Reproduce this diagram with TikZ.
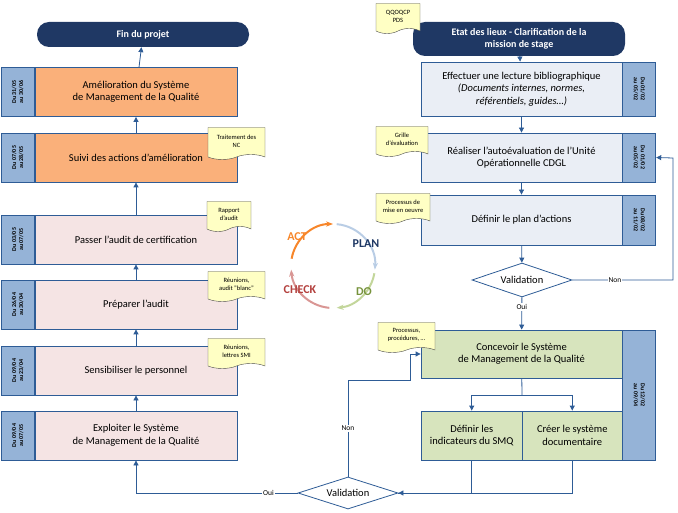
\documentclass[tikz,border=0pt]{standalone}
\usepackage{fontspec}
\setmainfont{Carlito}
\usetikzlibrary{shapes.geometric,shapes.symbols,arrows.meta,positioning}
\definecolor{navy}{HTML}{1F3864}
\definecolor{linec}{HTML}{2E5C96}
\definecolor{tabc}{HTML}{95B3D7}
\definecolor{orangec}{HTML}{FAB07A}
\definecolor{pinkc}{HTML}{F5E4E4}
\definecolor{greyc}{HTML}{EAEEF5}
\definecolor{greenc}{HTML}{D7E4BD}
\definecolor{notec}{HTML}{FFFFC4}
\definecolor{actc}{HTML}{F7862A}
\definecolor{planc}{HTML}{B9CDE5}
\definecolor{doc}{HTML}{C3D69B}
\definecolor{dotext}{HTML}{77933C}
\definecolor{checkc}{HTML}{D99694}
\definecolor{checktext}{HTML}{B3403D}

\begin{document}
\begin{tikzpicture}
  [x=1pt, y=-1pt,
  every node/.style={font=\fontsize{10.5}{12.5}\selectfont},
  flow/.style={draw=linec, thick, -{Triangle[length=5pt,width=5pt]}},
  link/.style={draw=linec, thick},
  step box/.style={draw=linec, thick, rectangle, align=center, minimum height=49, inner sep=1pt},
  date tab/.style={draw=linec, thick, rectangle, fill=tabc, minimum width=33, minimum height=49, inner sep=0pt},
  terminal/.style={fill=navy, rounded corners=12pt, text=white, align=center, minimum width=212, font=\fontsize{10}{12.5}\bfseries\selectfont},
  doc note/.style={tape, tape bend top=none, draw=black!70, fill=notec, align=center, inner sep=1pt, font=\fontsize{6.5}{8}\selectfont},
  decision/.style={diamond, draw=linec, thick, fill=white, aspect=3, minimum width=100, minimum height=34, inner sep=0pt},
  small label/.style={fill=white, inner sep=1pt, font=\fontsize{7.5}{8.5}\selectfont},
  cycle text/.style={font=\fontsize{12}{14}\bfseries\selectfont}
  ]
  \useasboundingbox (0,0) rectangle (678,513);

  % left column
  \node[terminal, minimum height=25] (end) at (143,34.5) {Fin du projet};
  \node[step box, fill=orangec, minimum width=202] (improve) at (136,92) {Amélioration du Système\\de Management de la Qualité};
  \node[step box, fill=orangec, minimum width=202] (follow) at (136,157.5) {Suivi des actions d’amélioration};
  \node[step box, fill=pinkc, minimum width=202] (audit) at (136,239.5) {Passer l’audit de certification};
  \node[step box, fill=pinkc, minimum width=202] (prepare) at (136,304.5) {Préparer l’audit};
  \node[step box, fill=pinkc, minimum width=202] (train) at (136,370.5) {Sensibiliser le personnel};
  \node[step box, fill=pinkc, minimum width=202] (run) at (136,435.5) {Exploiter le Système\\de Management de la Qualité};
  \foreach \n/\d in {improve/{Du 31/05\\au 30/06}, follow/{Du 07/05\\au 28/05}, audit/{Du 03/05\\au 07/05},
                     prepare/{Du 26/04\\au 30/04}, train/{Du 09/04\\au 23/04}, run/{Du 09/04\\au 07/05}}
    \node[date tab, anchor=east] (\n-tab) at (\n.west) {\rotatebox{90}{\parbox{34pt}{\centering\fontsize{6}{7}\bfseries\selectfont\d}}};

  \draw[flow] (run) -- (train);
  \draw[flow] (train) -- (prepare);
  \draw[flow] (prepare) -- (audit);
  \draw[flow] (audit) -- (follow);
  \draw[flow] (follow) -- (improve);
  \draw[flow] (improve) -- (end);

  \node[doc note, minimum width=57, minimum height=32] (note-nc) at (236.5,141) {Traitement des\\NC};
  \node[doc note, minimum width=44, minimum height=30] (note-report) at (229,214) {Rapport\\d’audit};
  \node[doc note, minimum width=57, minimum height=30] (note-blanc) at (236.5,284) {Réunions,\\audit "blanc"};
  \node[doc note, minimum width=57, minimum height=30] (note-smi) at (236.5,351) {Réunions,\\lettres SMI};

  % right column
  \node[terminal, minimum height=34] (start) at (519,39) {Etat des lieux - Clarification de la\\mission de stage};
  \node[doc note, minimum width=44, minimum height=30] (note-qq) at (398,16) {QQOQCP\\PDS};
  \node[step box, fill=greyc, minimum width=201, minimum height=54] (read) at (521.5,89) {Effectuer une lecture bibliographique\\\textit{(Documents internes, normes,}\\\textit{référentiels, guides…)}};
  \node[step box, fill=greyc, minimum width=201] (selfeval) at (521.5,157.5) {Réaliser l’autoévaluation de l’Unité\\Opérationnelle CDGL};
  \node[step box, fill=greyc, minimum width=201, minimum height=50] (plan) at (521.5,220) {Définir le plan d’actions};
  \node[date tab, anchor=west, minimum height=54] (read-tab) at (read.east) {\rotatebox{-90}{\parbox{34pt}{\centering\fontsize{6}{7}\bfseries\selectfont Du 01/02\\au 05/02}}};
  \node[date tab, anchor=west] (selfeval-tab) at (selfeval.east) {\rotatebox{-90}{\parbox{34pt}{\centering\fontsize{6}{7}\bfseries\selectfont Du 01/02\\au 05/02}}};
  \node[date tab, anchor=west, minimum height=50] (plan-tab) at (plan.east) {\rotatebox{-90}{\parbox{34pt}{\centering\fontsize{6}{7}\bfseries\selectfont Du 08/02\\au 11/02}}};
  \node[doc note, minimum width=52, minimum height=30] (note-grid) at (402,139) {Grille\\d’évaluation};
  \node[doc note, minimum width=54, minimum height=30] (note-process) at (403,206) {Processus de\\mise en oeuvre};

  \node[decision] (check1) at (522,280) {Validation};
  \draw[flow] (start) -- (read);
  \draw[flow] (read) -- (selfeval);
  \draw[flow] (selfeval) -- (plan);
  \draw[flow] (plan) -- (check1);
  \coordinate (back) at (673,158);
  \draw[flow] (check1.east) -| (back) -- (selfeval-tab.east);
  \node[small label] at (615,280) {Non};

  \node[step box, fill=greenc, minimum width=201, minimum height=48] (design) at (521.5,354) {Concevoir le Système\\de Management de la Qualité};
  \node[step box, fill=greenc, minimum width=100.5] (kpi) at (471.75,435.5) {Définir les\\indicateurs du SMQ};
  \node[step box, fill=greenc, minimum width=100.5] (docs) at (572.25,435.5) {Créer le système\\documentaire};
  \node[date tab, anchor=north west, minimum height=130] (design-tab) at (design.north east) {\rotatebox{-90}{\parbox{34pt}{\centering\fontsize{6}{7}\bfseries\selectfont Du 12/02\\au 09/04}}};
  \node[doc note, minimum width=57, minimum height=30] (note-docs) at (406.5,335) {Processus,\\procédures, …};
  \draw[flow] (check1) -- node[small label, pos=0.3] {Oui} (design);
  \coordinate (split) at (522,395);
  \draw[link] (design) -- (split);
  \draw[flow] (split) -| (kpi);
  \draw[flow] (split) -| (docs);

  \node[decision, minimum height=32] (check2) at (348,493) {Validation};
  \draw[link] (kpi) |- (check2.east);
  \draw[flow] (docs) |- (check2.east);
  \coordinate (loop) at (410,380);
  \draw[flow] (check2.north) -- node[small label] {Non} (348,380) -- (loop) |- (design.west);
  \draw[flow] (check2.west) -- node[small label, pos=0.18] {Oui} (136,493) -- (run);

  % PDCA cycle
  \draw[line width=2pt, actc, -{Stealth[length=7pt]}] (333,266) ++(190:42) arc[start angle=190, end angle=270, radius=42];
  \draw[line width=2pt, planc, -{Stealth[length=7pt]}] (333,266) ++(275:42) arc[start angle=275, end angle=365, radius=42];
  \draw[line width=2pt, doc, -{Stealth[length=7pt]}] (333,266) ++(10:42) arc[start angle=10, end angle=85, radius=42];
  \draw[line width=2pt, checkc, -{Stealth[length=7pt]}] (333,266) ++(95:42) arc[start angle=95, end angle=175, radius=42];
  \node[cycle text, text=actc] (act) at (297,237) {ACT};
  \node[cycle text, text=navy] (plantxt) at (366,244) {PLAN};
  \node[cycle text, text=dotext] (do) at (364,292) {DO};
  \node[cycle text, text=checktext] (checktxt) at (300,290) {CHECK};
\end{tikzpicture}
\end{document}
